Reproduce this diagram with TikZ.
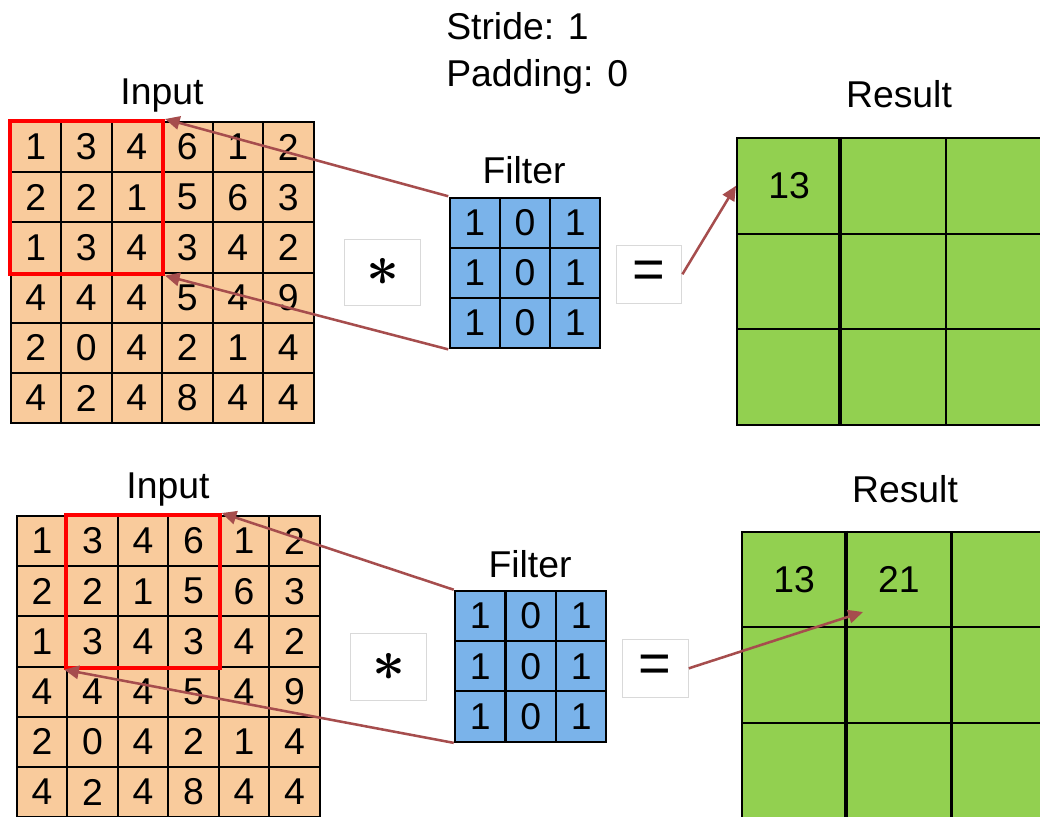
\documentclass[tikz,border=0pt]{standalone}
\usepackage{fontspec}
\usepackage{graphicx}
\setmainfont{Liberation Sans}
\usetikzlibrary{arrows.meta,fit}

\definecolor{peach}{HTML}{F9CB9C}
\definecolor{fblue}{HTML}{7AB3EA}
\definecolor{rgreen}{HTML}{92D050}
\definecolor{arr}{HTML}{A64D4D}
\definecolor{boxgray}{HTML}{D9D9D9}

\newcommand{\convsym}{\scalebox{4.3}{\boldmath$\ast$}}
\newcommand{\eqsym}{\fontsize{42}{42}\selectfont =}

\tikzset{
  txt/.style={font=\fontsize{28}{33}\selectfont},
  lbl/.style={txt, anchor=base, inner sep=0pt},
  gridcell/.style={draw=black, line width=1.5pt, inner sep=0pt, anchor=north west, txt},
  incell/.style={gridcell, fill=peach, minimum width=50.5*0.75pt, minimum height=50.2*0.75pt},
  fcell/.style={gridcell, fill=fblue, minimum width=50.3*0.75pt, minimum height=50.2*0.75pt},
  rcell/.style={gridcell, fill=rgreen, minimum width=104.3*0.75pt, minimum height=95.5*0.75pt},
  window/.style={draw=red, line width=3pt, inner sep=0pt},
  frame/.style={inner sep=0pt},
  opbox/.style={draw=boxgray, fill=white, line width=0.8pt, inner sep=0pt},
  conn/.style={draw=arr, line width=1.9pt, -{Triangle[length=11pt,width=10pt]}},
}

\begin{document}
\begin{tikzpicture}[x=0.75pt,y=-0.75pt]
\useasboundingbox (0,0) rectangle (1040,817);
\clip (0,0) rectangle (1040,817);

% ---------- header ----------
\node[lbl, anchor=base west] (stride) at (446,40) {Stride: 1};
\node[lbl, anchor=base west] (padding) at (446,87) {Padding: 0};

% ---------- first step ----------
\node[lbl] (inlabA) at (162,104) {Input};
\foreach \row [count=\i] in {{1,3,4,6,1,2},{2,2,1,5,6,3},{1,3,4,3,4,2},{4,4,4,5,4,9},{2,0,4,2,1,4},{4,2,4,8,4,4}}{
  \foreach \v [count=\j] in \row {
    \node[incell] (inA-\i-\j) at ({9.5+(\j-1)*50.5},{121+(\i-1)*50.2}) {\v};
  }
}
\node[window, fit=(inA-1-1)(inA-3-3)] (winA) {};

\node[lbl] (flabA) at (524,183) {Filter};
\foreach \i in {1,2,3}{
  \foreach \v [count=\j] in {1,0,1}{
    \node[fcell] (fA-\i-\j) at ({448.5+(\j-1)*50.3},{196.5+(\i-1)*50.2}) {\v};
  }
}
\node[frame, fit=(fA-1-1)(fA-3-3)] (filtA) {};

\node[opbox, minimum width=75.7*0.75pt, minimum height=65.7*0.75pt] (starA) at (382.8,272.2) {\convsym};
\node[opbox, minimum width=65.7*0.75pt, minimum height=58*0.75pt] (eqA) at (649,274.3) {\eqsym};

\node[lbl] (reslabA) at (899,108) {Result};
\foreach \i/\j/\t in {1/1/13,1/2/,1/3/,2/1/,2/2/,2/3/,3/1/,3/2/,3/3/}{
  \node[rcell] (resA-\i-\j) at ({736+(\j-1)*104.3},{137+(\i-1)*95.5}) {\t};
}
\draw[line width=3pt] (resA-1-2.north west) -- (resA-3-2.south west);

\draw[conn] (filtA.north west) -- (winA.north east);
\draw[conn] (filtA.south west) -- (winA.south east);
\draw[conn] (eqA.east) -- (resA-1-1.west);

% ---------- second step ----------
\node[lbl] (inlabB) at (168,498) {Input};
\foreach \row [count=\i] in {{1,3,4,6,1,2},{2,2,1,5,6,3},{1,3,4,3,4,2},{4,4,4,5,4,9},{2,0,4,2,1,4},{4,2,4,8,4,4}}{
  \foreach \v [count=\j] in \row {
    \node[incell] (inB-\i-\j) at ({15.7+(\j-1)*50.5},{515+(\i-1)*50.2}) {\v};
  }
}
\node[window, fit=(inB-1-2)(inB-3-4)] (winB) {};

\node[lbl] (flabB) at (530,577) {Filter};
\foreach \i in {1,2,3}{
  \foreach \v [count=\j] in {1,0,1}{
    \node[fcell] (fB-\i-\j) at ({454+(\j-1)*50.5},{590+(\i-1)*50.2}) {\v};
  }
}
\node[frame, fit=(fB-1-1)(fB-3-3)] (filtB) {};

\node[opbox, minimum width=75.7*0.75pt, minimum height=66.7*0.75pt] (starB) at (388.8,666.7) {\convsym};
\node[opbox, minimum width=66*0.75pt, minimum height=58*0.75pt] (eqB) at (655.3,668.3) {\eqsym};

\node[lbl] (reslabB) at (905,502) {Result};
\foreach \i/\j/\t in {1/1/13,1/2/21,1/3/,2/1/,2/2/,2/3/,3/1/,3/2/,3/3/}{
  \node[rcell] (resB-\i-\j) at ({741+(\j-1)*104.8},{530.7+(\i-1)*95.5}) {\t};
}
\draw[line width=3pt] (resB-1-2.north west) -- (resB-3-2.south west);

\coordinate (hitB) at (863,612);
\draw[conn] (filtB.north west) -- (winB.north east);
\draw[conn] (filtB.south west) -- (winB.south west);
\draw[conn] (eqB.east) -- (hitB);
\end{tikzpicture}
\end{document}
